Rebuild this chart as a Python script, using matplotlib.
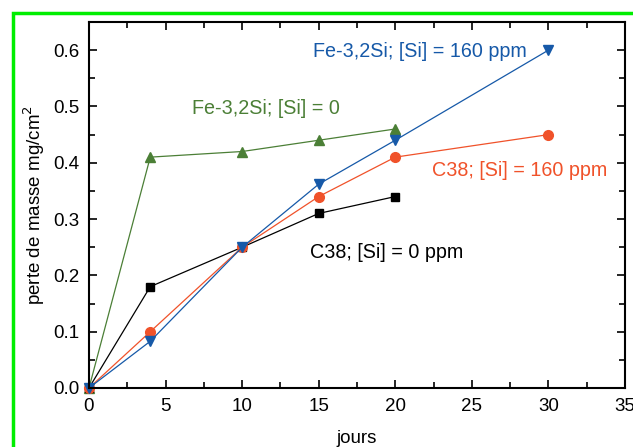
import matplotlib
matplotlib.use('Agg')
import matplotlib.pyplot as plt
from matplotlib.patches import Rectangle
from matplotlib.ticker import MultipleLocator

plt.rcParams['font.family'] = ['Liberation Sans', 'DejaVu Sans']

# mass loss vs days
jours_c38_0 = [0, 4, 10, 15, 20]
perte_c38_0 = [0.0, 0.18, 0.25, 0.31, 0.34]

jours_c38_160 = [0, 4, 10, 15, 20, 30]
perte_c38_160 = [0.0, 0.10, 0.25, 0.34, 0.41, 0.45]

jours_fe_160 = [0, 4, 10, 15, 20, 30]
perte_fe_160 = [0.0, 0.083, 0.25, 0.362, 0.44, 0.60]

jours_fe_0 = [0, 4, 10, 15, 20]
perte_fe_0 = [0.0, 0.41, 0.42, 0.44, 0.46]

black = '#000000'
red = '#f0522a'
blue = '#1659a8'
green = '#4b7f36'

fs = 13.5

fig = plt.figure(figsize=(6.33, 4.47), dpi=100)
ax = fig.add_axes([89/633, 1 - 388/447, (625-89)/633, (388-22)/447])

ax.plot(jours_fe_0, perte_fe_0, '-^', color=green, lw=0.9, ms=7, clip_on=False)
ax.plot(jours_c38_0, perte_c38_0, '-s', color=black, lw=0.9, ms=6, clip_on=False)
ax.plot(jours_c38_160, perte_c38_160, '-o', color=red, lw=0.9, ms=7, clip_on=False)
ax.plot(jours_fe_160, perte_fe_160, '-v', color=blue, lw=0.9, ms=7, clip_on=False)

ax.set_xlim(0, 35)
ax.set_ylim(0, 0.65)
ax.xaxis.set_major_locator(MultipleLocator(5))
ax.xaxis.set_minor_locator(MultipleLocator(2.5))
ax.yaxis.set_major_locator(MultipleLocator(0.1))
ax.yaxis.set_minor_locator(MultipleLocator(0.05))
ax.tick_params(which='both', direction='in', top=True, right=True, width=1.2, labelsize=fs, pad=7)
ax.tick_params(which='major', length=6)
ax.tick_params(which='minor', length=4)
ax.yaxis.set_major_formatter(plt.FuncFormatter(lambda v, p: '%.1f' % v))
for s in ax.spines.values():
    s.set_linewidth(1.5)

ax.set_xlabel('jours', fontsize=fs, labelpad=11)
ax.set_ylabel('perte de masse mg/cm$^2$', fontsize=fs, labelpad=4)

fa = 14.2
ax.text(14.6, 0.598, 'Fe-3,2Si; [Si] = 160 ppm', color=blue, fontsize=fa, va='center')
ax.text(6.7, 0.497, 'Fe-3,2Si; [Si] = 0', color=green, fontsize=fa, va='center')
ax.text(22.4, 0.387, 'C38; [Si] = 160 ppm', color=red, fontsize=fa, va='center')
ax.text(14.4, 0.2415, 'C38; [Si] = 0 ppm', color=black, fontsize=fa, va='center')

fig.patches.append(Rectangle((13/633, -0.1), 1.2, 1 - 13/447 + 0.1, transform=fig.transFigure,
                             fill=False, edgecolor='#00ee00', lw=2.5))

fig.savefig('out.png', dpi=100)
